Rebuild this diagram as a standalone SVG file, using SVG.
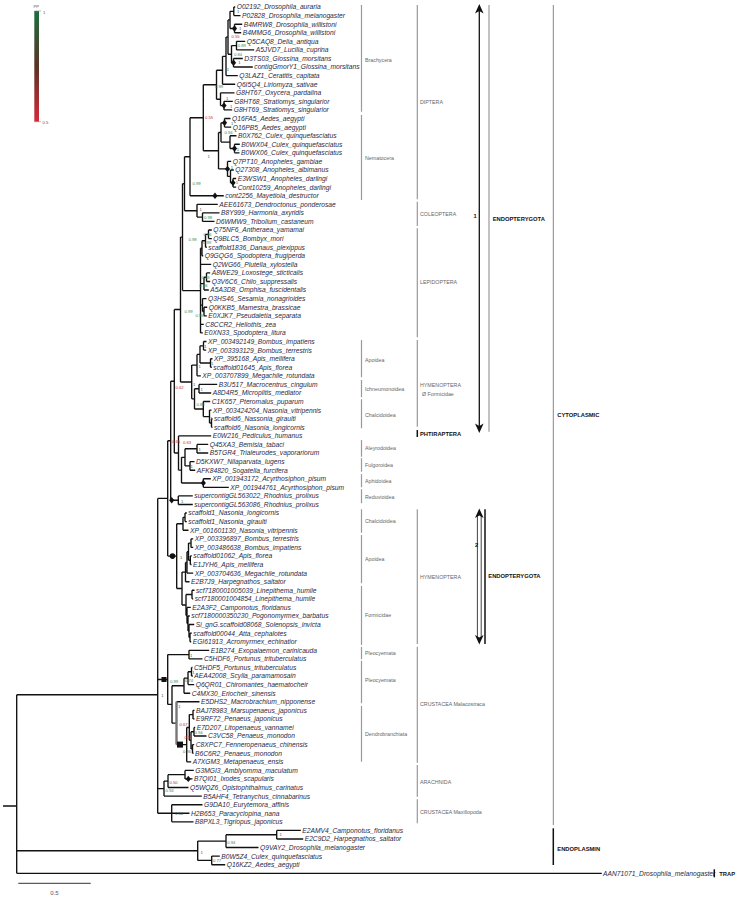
<svg xmlns="http://www.w3.org/2000/svg" width="739" height="897" viewBox="0 0 739 897">
<style>
.t{font-family:"Liberation Sans",Arial,sans-serif;font-style:italic;font-size:6.7px;fill:#2a2a44}
.g{font-family:"Liberation Sans",Arial,sans-serif;font-size:5.3px;fill:#666}
.b{font-family:"Liberation Sans",Arial,sans-serif;font-size:5.8px;font-weight:bold;fill:#111}
.s{font-family:"Liberation Sans",Arial,sans-serif;font-size:4.2px}
.s1{fill:#3d5c4a}.sg{fill:#2e8b57}.sm{fill:#6e6a40}.sr{fill:#c62835}
.br{stroke:#9a9a9a;stroke-width:1.2;fill:none}
.bk{stroke:#111;stroke-width:1.5;fill:none}
.tree{stroke:#111;stroke-width:1.35;fill:none}
</style>
<defs>
<linearGradient id="pp" x1="0" y1="0" x2="0" y2="1">
<stop offset="0" stop-color="#1b6e3e"/><stop offset="0.5" stop-color="#5a3324"/><stop offset="1" stop-color="#d42a3c"/>
</linearGradient>
<path id="dia" d="M0 -3.2L2.6 0L0 3.2L-2.6 0Z" fill="#111"/>
</defs>
<rect width="739" height="897" fill="#fff"/>

<g id="legend">
<rect x="34.3" y="11" width="4.7" height="110.7" fill="url(#pp)"/>
<path d="M34.3 11H41M34.3 121.7H41" stroke="#888" stroke-width="0.6"/>
<text class="s" x="33.5" y="8" fill="#555" font-size="3.6">PP</text>
<text class="s" x="43" y="13.5" fill="#555">1</text>
<text class="s" x="42.5" y="123.5" fill="#555">0.5</text>
</g>

<g id="connectors">
<path class="tree" d="M233.8 7V15.6M233.8 7H235.2M233.8 15.6H240.5
M234.5 24.2V32.7M234.5 24.2H242.2M234.5 32.7H241.2
M230 11.3V28.45M230 11.3H233.8M230 28.45H234.5
M236.5 41.3V49.9M236.5 41.3H245.2M236.5 49.9H254.2
M233.5 58.5V67M233.5 58.5H242.8M233.5 67H252.8
M231.5 45.6V62.75M231.5 45.6H236.5M231.5 62.75H233.5
M228 19.9V54.2M228 19.9H230M228 54.2H231.5
M226 37.05V75.6M226 37.05H228M226 75.6H237.8
M222.5 56.3V84.2M222.5 56.3H226M222.5 84.2H235.2
M224 101.3V109.9M224 101.3H232.8M224 109.9H232.2
M220.5 92.8V105.6M220.5 92.8H234.5M220.5 105.6H224
M216.5 70.25V99.2M216.5 70.25H222.5M216.5 99.2H220.5
M224.5 118.5V127.1M224.5 118.5H230.5M224.5 127.1H231.2
M234.5 144.2V152.8M234.5 144.2H239.8M234.5 152.8H239.5
M230 135.7V148.5M230 135.7H236.5M230 148.5H234.5
M221 122.8V142.1M221 122.8H224.5M221 142.1H230
M233 178.5V187.1M233 178.5H236.2M233 187.1H236.2
M230.5 170V182.8M230.5 170H233.8M230.5 182.8H233
M227.5 161.4V176.4M227.5 161.4H231.2M227.5 176.4H230.5
M218.5 132.45V168.9M218.5 132.45H221M218.5 168.9H227.5
M203.3 84.7V150.7M203.3 84.7H216.5M203.3 150.7H218.5
M190 117.7V195.7M190 117.7H203.3M190 195.7H223.8
M202.5 212.8V221.4M202.5 212.8H219.5M202.5 221.4H214.5
M197 204.3V217.1M197 204.3H217.8M197 217.1H202.5
M184.5 156.7V210.7M184.5 156.7H190M184.5 210.7H197"/>
<path class="tree" d="M208.5 230V238.6M208.5 230H211.8M208.5 238.6H211.8
M205.5 234.3V247.2M205.5 234.3H208.5M205.5 247.2H206.8
M202 240.75V255.7M202 240.75H205.5M202 255.7H203.2
M206.5 272.9V281.5M206.5 272.9H210.2M206.5 281.5H210.2
M204 277.2V290M204 277.2H206.5M204 290H208.8
M204 307.2V315.8M204 307.2H207.2M204 315.8H206.8
M202.5 298.6V311.5M202.5 298.6H206.5M202.5 311.5H204
M200.5 248.2V332.9M200.5 248.2H202M200.5 264.3H211.2M200.5 283.6H204M200.5 305.05H202.5M200.5 324.3H203.8M200.5 332.9H202.8
M182.5 183.7V290.55M182.5 183.7H184.5M182.5 290.55H200.5"/>
<path class="tree" d="M203.5 341.5V350.1M203.5 341.5H206.5M203.5 350.1H206.2
M210.5 358.7V367.2M210.5 358.7H212.5M210.5 367.2H211.8
M200 345.8V362.95M200 345.8H203.5M200 362.95H210.5
M197 354.4V375.8M197 354.4H200M197 375.8H200.8
M199 384.4V393M199 384.4H217.2M199 393H211.2
M211.5 418.7V427.3M211.5 418.7H212.5M211.5 427.3H212.5
M209.5 410.1V423M209.5 410.1H211.5M209.5 423H211.5
M203.3 401.5V416.55M203.3 401.5H210.2M203.3 416.55H209.5
M194.5 388.7V409M194.5 388.7H199M194.5 409H203.3
M191.7 365.1V398.85M191.7 365.1H197M191.7 398.85H194.5
M180.5 237.1V381.95M180.5 237.1H182.5M180.5 381.95H191.7"/>
<path class="tree" d="M197 444.4V453M197 444.4H208.2M197 453H208.2
M190 461.6V470.2M190 461.6H194.5M190 470.2H195.2
M185 448.7V465.9M185 448.7H197M185 465.9H190
M203.3 478.7V487.3M203.3 478.7H210.8M203.3 487.3H228.8
M181.5 457.3V483M181.5 457.3H185M181.5 483H203.3
M178.5 435.9V470.15M178.5 435.9H211.2M178.5 470.15H181.5
M174.3 309.5V453M174.3 309.5H180.5M174.3 453H178.5
M178.3 495.9V504.5M178.3 495.9H192.8M178.3 504.5H192.8
M170.7 381.25V500.2M170.7 381.25H174.3M170.7 500.2H178.3"/>
<path class="tree" d="M185 513V521.6M185 513H186.8M185 521.6H186.8
M183 517.3V530.2M183 517.3H185M183 530.2H188.5
M191 538.8V547.4M191 538.8H193.2M191 547.4H193.2
M190.3 555.9V564.5M190.3 555.9H191.8M190.3 564.5H191.5
M188.5 543.1V560.2M188.5 543.1H191M188.5 560.2H190.3
M187 551.65V573.1M187 551.65H188.5M187 573.1H193.2
M185.5 562.4V581.7M185.5 562.4H187M185.5 581.7H189.5
M192 590.2V598.8M192 590.2H194.5M192 598.8H193.2
M190 633.1V641.7M190 633.1H191.8M190 641.7H191.2
M189 624.5V637.4M189 624.5H194.2M189 637.4H190
M188 616V630.95M188 616H189.8M188 630.95H189
M187 607.4V623.5M187 607.4H190.8M187 623.5H188
M186 594.5V615.45M186 594.5H192M186 615.45H187
M182 572.05V604.95M182 572.05H185.5M182 604.95H186
M176.7 523.75V588.5M176.7 523.75H183M176.7 588.5H182
M167.7 440.7V556.1M167.7 440.7H170.7M167.7 556.1H176.7"/>
<path class="tree" d="M189 650.3V658.9M189 650.3H209.2M189 658.9H202.5
M191.5 667.4V676M191.5 667.4H192.5M191.5 676H192.8
M188 671.7V684.6M188 671.7H191.5M188 684.6H194.2
M184 678.15V693.2M184 678.15H188M184 693.2H190.2
M193 710.3V718.9M193 710.3H194.5M193 718.9H194.5
M194 727.5V736M194 727.5H195.2M194 736H206.5
M192.5 744.6V753.2M192.5 744.6H194.2M192.5 753.2H193.5
M191 731.75V748.9M191 731.75H194M191 748.9H192.5
M189.3 714.6V740.3M189.3 714.6H193M189.3 740.3H191
M186.7 727.45V761.8M186.7 727.45H189.3M186.7 761.8H191.2
M176.5 744.6H186.7M176.5 701.7H199.5
M172 685.7V723.15M172 685.7H184M172 723.15H176.5
M167.7 654.6V704.4M167.7 654.6H189M167.7 704.4H172
M185 770.4V778.9M185 770.4H193.8M185 778.9H192.5
M168 774.65V787.5M168 774.65H185M168 787.5H188.5
M164 781.1V796.1M164 781.1H168M164 796.1H201.8
M171.7 804.7V821.8M171.7 804.7H202.5M171.7 813.2H189.5M171.7 821.8H193.5
M157.7 498.4V813.2M157.7 498.4H167.7M157.7 679.5H167.7M157.7 788.6H164M157.7 813.2H171.7"/>
<path d="M176.5 701.7V744.6" stroke="#777" stroke-width="2.4" fill="none"/>
<path class="tree" d="M276.7 830.4V839M276.7 830.4H300.8M276.7 839H303.2
M226 834.7V847.5M226 834.7H276.7M226 847.5H258.5
M211.7 856.1V864.7M211.7 856.1H219.8M211.7 864.7H225.2
M197.7 841.1V860.4M197.7 841.1H226M197.7 860.4H211.7
M16.7 694.7V873.3M16.7 694.7H157.7M16.7 850.75H197.7M16.7 873.3H601.8M3 806H16.7"/>
</g>

<g id="node-markers">
<use href="#dia" x="234.5" y="28.45"/>
<use href="#dia" x="233.5" y="62.75"/>
<use href="#dia" x="224" y="105.6"/>
<use href="#dia" x="224.5" y="122.8"/>
<use href="#dia" x="234.5" y="148.5"/>
<use href="#dia" x="227.5" y="168.9"/>
<use href="#dia" x="233" y="182.8"/>
<use href="#dia" x="215" y="195.7"/>
<use href="#dia" x="203.3" y="483"/>
<use href="#dia" x="171.7" y="500.2"/>
<use href="#dia" x="188.3" y="778.9"/>
<circle cx="172.5" cy="556.1" r="2.8" fill="#111"/>
<rect x="161.5" y="677" width="5" height="5" fill="#111"/>
<rect x="177" y="741.6" width="6" height="6" fill="#111"/>
</g>

<g id="supports" class="s">
<text class="s1" x="237" y="13.2">1</text>
<text class="s1" x="239" y="29.8">1</text>
<text class="sr" x="231.5" y="38.4">0.55</text>
<text class="sg" x="237.8" y="47">0.89</text>
<text class="sg" x="234" y="55.6">0.84</text>
<text class="s1" x="238.3" y="64.2">1</text>
<text class="s1" x="226.7" y="70.8">1</text>
<text class="sg" x="215" y="87.8">0.99</text>
<text class="s1" x="226" y="100">1</text>
<text class="s1" x="230" y="107.5">1</text>
<text class="sr" x="205" y="119">0.55</text>
<text class="s1" x="231" y="124.8">1</text>
<text class="sg" x="224.5" y="133.8">0.94</text>
<text class="s1" x="236.7" y="150.7">1</text>
<text class="s1" x="207.5" y="157.5">1</text>
<text class="s1" x="230.7" y="168.5">1</text>
<text class="s1" x="235.7" y="184.2">1</text>
<text class="sg" x="192.5" y="184.8">0.99</text>
<text class="s1" x="199.5" y="210.5">1</text>
<text class="sg" x="204" y="219">0.98</text>
<text class="sg" x="203.5" y="236.3">0.96</text>
<text class="sg" x="188.5" y="240.8">0.98</text>
<text class="sg" x="203" y="244">0.99</text>
<text class="sg" x="201.5" y="278.5">0.93</text>
<text class="sg" x="199.5" y="287">0.96</text>
<text class="sg" x="184.5" y="312.5">0.99</text>
<text class="sg" x="195.5" y="316.5">0.96</text>
<text class="s1" x="204.3" y="347.8">1</text>
<text class="s1" x="211" y="365">1</text>
<text class="s1" x="198.5" y="368">1</text>
<text class="s1" x="193" y="385.5">1</text>
<text class="s1" x="200.5" y="391">1</text>
<text class="sr" x="175.5" y="388.8">0.62</text>
<text class="sg" x="196.5" y="406">0.89</text>
<text class="s1" x="210.2" y="419.5">1</text>
<text class="sr" x="172" y="443.2">0.65</text>
<text class="sr" x="183" y="444">0.63</text>
<text class="s1" x="198.5" y="450.5">1</text>
<text class="s1" x="190.5" y="467.5">1</text>
<text class="s1" x="181" y="502.5">1</text>
<text class="s1" x="189.3" y="545.2">1</text>
<text class="s1" x="180" y="559">1</text>
<text class="s1" x="190" y="656.5">1</text>
<text class="s1" x="192.3" y="673.5">1</text>
<text class="sm" x="185" y="682">0.74</text>
<text class="sg" x="170" y="682.5">0.99</text>
<text class="s1" x="161.2" y="697">1</text>
<text class="s1" x="178.3" y="707.5">1</text>
<text class="sr" x="179.5" y="726">0.67</text>
<text class="sg" x="194.5" y="734">0.94</text>
<text class="sr" x="184.5" y="739">0.5</text>
<text class="sm" x="183" y="753">0.86</text>
<text class="sr" x="169.5" y="784">0.50</text>
<text class="sg" x="165.5" y="792">0.94</text>
<text class="s1" x="175" y="814.5">1.00</text>
<text class="s1" x="279.5" y="836.2">1</text>
<text class="sg" x="227.3" y="843.5">0.94</text>
<text class="s1" x="200.5" y="853.5">1</text>
<text class="sm" x="213" y="862">0.77</text>
</g>

<g id="leaves">
<g id="leaf-0"><text class="t" x="236.7" y="9.4">O02192_Drosophila_auraria</text></g>
<g id="leaf-1"><text class="t" x="242" y="18">P02828_Drosophila_melanogaster</text></g>
<g id="leaf-2"><text class="t" x="243.7" y="26.6">B4MRW8_Drosophila_willistoni</text></g>
<g id="leaf-3"><text class="t" x="242.7" y="35.1">B4MMG6_Drosophila_willistoni</text></g>
<g id="leaf-4"><text class="t" x="246.7" y="43.7">Q5CAQ8_Delia_antiqua</text></g>
<g id="leaf-5"><text class="t" x="255.7" y="52.3">A5JVD7_Lucilia_cuprina</text></g>
<g id="leaf-6"><text class="t" x="244.3" y="60.9">D3TS03_Glossina_morsitans</text></g>
<g id="leaf-7"><text class="t" x="254.3" y="69.4">contigGmorY1_Glossina_morsitans</text></g>
<g id="leaf-8"><text class="t" x="239.3" y="78">Q3LAZ1_Ceratitis_capitata</text></g>
<g id="leaf-9"><text class="t" x="236.7" y="86.6">Q6I5Q4_Liriomyza_sativae</text></g>
<g id="leaf-10"><text class="t" x="236" y="95.2">G8HT67_Oxycera_pardalina</text></g>
<g id="leaf-11"><text class="t" x="234.3" y="103.7">G8HT68_Stratiomys_singularior</text></g>
<g id="leaf-12"><text class="t" x="233.7" y="112.3">G8HT69_Stratiomys_singularior</text></g>
<g id="leaf-13"><text class="t" x="232" y="120.9">Q16FA5_Aedes_aegypti</text></g>
<g id="leaf-14"><text class="t" x="232.7" y="129.5">Q16PB5_Aedes_aegypti</text></g>
<g id="leaf-15"><text class="t" x="238" y="138.1">B0X762_Culex_quinquefasciatus</text></g>
<g id="leaf-16"><text class="t" x="241.3" y="146.6">B0WX04_Culex_quinquefasciatus</text></g>
<g id="leaf-17"><text class="t" x="241" y="155.2">B0WX06_Culex_quinquefasciatus</text></g>
<g id="leaf-18"><text class="t" x="232.7" y="163.8">Q7PT10_Anopheles_gambiae</text></g>
<g id="leaf-19"><text class="t" x="235.3" y="172.4">Q27308_Anopheles_albimanus</text></g>
<g id="leaf-20"><text class="t" x="237.7" y="180.9">E3WSW1_Anopheles_darlingi</text></g>
<g id="leaf-21"><text class="t" x="237.7" y="189.5">Cont10259_Anopheles_darlingi</text></g>
<g id="leaf-22"><text class="t" x="225.3" y="198.1">cont2256_Mayetiola_destructor</text></g>
<g id="leaf-23"><text class="t" x="219.3" y="206.7">AEE61673_Dendroctonus_ponderosae</text></g>
<g id="leaf-24"><text class="t" x="221" y="215.2">B8Y999_Harmonia_axyridis</text></g>
<g id="leaf-25"><text class="t" x="216" y="223.8">D6WMW9_Tribolium_castaneum</text></g>
<g id="leaf-26"><text class="t" x="213.3" y="232.4">Q75NF6_Antheraea_yamamai</text></g>
<g id="leaf-27"><text class="t" x="213.3" y="241">Q9BLC5_Bombyx_mori</text></g>
<g id="leaf-28"><text class="t" x="208.3" y="249.6">scaffold1836_Danaus_plexippus</text></g>
<g id="leaf-29"><text class="t" x="204.7" y="258.1">Q9GQG6_Spodoptera_frugiperda</text></g>
<g id="leaf-30"><text class="t" x="212.7" y="266.7">Q2WG66_Plutella_xylostella</text></g>
<g id="leaf-31"><text class="t" x="211.7" y="275.3">A8WE29_Loxostege_sticticalis</text></g>
<g id="leaf-32"><text class="t" x="211.7" y="283.9">Q3V6C6_Chilo_suppressalis</text></g>
<g id="leaf-33"><text class="t" x="210.3" y="292.4">A5A3D8_Omphisa_fuscidentalis</text></g>
<g id="leaf-34"><text class="t" x="208" y="301">Q3HS46_Sesamia_nonagrioides</text></g>
<g id="leaf-35"><text class="t" x="208.7" y="309.6">Q0KKB5_Mamestra_brassicae</text></g>
<g id="leaf-36"><text class="t" x="208.3" y="318.2">E0XJK7_Pseudaletia_separata</text></g>
<g id="leaf-37"><text class="t" x="205.3" y="326.7">C8CCR2_Heliothis_zea</text></g>
<g id="leaf-38"><text class="t" x="204.3" y="335.3">E0XN33_Spodoptera_litura</text></g>
<g id="leaf-39"><text class="t" x="208" y="343.9">XP_003492149_Bombus_impatiens</text></g>
<g id="leaf-40"><text class="t" x="207.7" y="352.5">XP_003393129_Bombus_terrestris</text></g>
<g id="leaf-41"><text class="t" x="214" y="361.1">XP_395168_Apis_mellifera</text></g>
<g id="leaf-42"><text class="t" x="213.3" y="369.6">scaffold01645_Apis_florea</text></g>
<g id="leaf-43"><text class="t" x="202.3" y="378.2">XP_003707899_Megachile_rotundata</text></g>
<g id="leaf-44"><text class="t" x="218.7" y="386.8">B3U517_Macrocentrus_cingulum</text></g>
<g id="leaf-45"><text class="t" x="212.7" y="395.4">A8D4R5_Microplitis_mediator</text></g>
<g id="leaf-46"><text class="t" x="211.7" y="403.9">C1K657_Pteromalus_puparum</text></g>
<g id="leaf-47"><text class="t" x="213" y="412.5">XP_003424204_Nasonia_vitripennis</text></g>
<g id="leaf-48"><text class="t" x="214" y="421.1">scaffold6_Nassonia_giraulti</text></g>
<g id="leaf-49"><text class="t" x="214" y="429.7">scaffold6_Nasonia_longicornis</text></g>
<g id="leaf-50"><text class="t" x="212.7" y="438.3">E0W216_Pediculus_humanus</text></g>
<g id="leaf-51"><text class="t" x="209.7" y="446.8">Q45XA3_Bemisia_tabaci</text></g>
<g id="leaf-52"><text class="t" x="209.7" y="455.4">B5TGR4_Trialeurodes_vaporariorum</text></g>
<g id="leaf-53"><text class="t" x="196" y="464">D5KXW7_Nilaparvata_lugens</text></g>
<g id="leaf-54"><text class="t" x="196.7" y="472.6">AFK84820_Sogatella_furcifera</text></g>
<g id="leaf-55"><text class="t" x="212.3" y="481.1">XP_001943172_Acyrthosiphon_pisum</text></g>
<g id="leaf-56"><text class="t" x="230.3" y="489.7">XP_001944761_Acyrthosiphon_pisum</text></g>
<g id="leaf-57"><text class="t" x="194.3" y="498.3">supercontigGL563022_Rhodnius_prolixus</text></g>
<g id="leaf-58"><text class="t" x="194.3" y="506.9">supercontigGL563086_Rhodnius_prolixus</text></g>
<g id="leaf-59"><text class="t" x="188.3" y="515.4">scaffold1_Nasonia_longicornis</text></g>
<g id="leaf-60"><text class="t" x="188.3" y="524">scaffold1_Nasonia_giraulti</text></g>
<g id="leaf-61"><text class="t" x="190" y="532.6">XP_001601130_Nasonia_vitripennis</text></g>
<g id="leaf-62"><text class="t" x="194.7" y="541.2">XP_003396897_Bombus_terrestris</text></g>
<g id="leaf-63"><text class="t" x="194.7" y="549.8">XP_003486638_Bombus_impatiens</text></g>
<g id="leaf-64"><text class="t" x="193.3" y="558.3">scaffold01062_Apis_florea</text></g>
<g id="leaf-65"><text class="t" x="193" y="566.9">E1JYH6_Apis_mellifera</text></g>
<g id="leaf-66"><text class="t" x="194.7" y="575.5">XP_003704636_Megachile_rotundata</text></g>
<g id="leaf-67"><text class="t" x="191" y="584.1">E2B7J9_Harpegnathos_saltator</text></g>
<g id="leaf-68"><text class="t" x="196" y="592.6">scf7180001005039_Linepithema_humile</text></g>
<g id="leaf-69"><text class="t" x="194.7" y="601.2">scf7180001004854_Linepithema_humile</text></g>
<g id="leaf-70"><text class="t" x="192.3" y="609.8">E2A3F2_Camponotus_floridanus</text></g>
<g id="leaf-71"><text class="t" x="191.3" y="618.4">scf7180000350230_Pogonomyrmex_barbatus</text></g>
<g id="leaf-72"><text class="t" x="195.7" y="626.9">Si_gnG.scaffold08068_Solenopsis_invicta</text></g>
<g id="leaf-73"><text class="t" x="193.3" y="635.5">scaffold00044_Atta_cephalotes</text></g>
<g id="leaf-74"><text class="t" x="192.7" y="644.1">EGI61913_Acromyrmex_echinatior</text></g>
<g id="leaf-75"><text class="t" x="210.7" y="652.7">E1B274_Exopalaemon_carinicauda</text></g>
<g id="leaf-76"><text class="t" x="204" y="661.3">C5HDF6_Portunus_trituberculatus</text></g>
<g id="leaf-77"><text class="t" x="194" y="669.8">C5HDF5_Portunus_trituberculatus</text></g>
<g id="leaf-78"><text class="t" x="194.3" y="678.4">AEA42008_Scylla_paramamosain</text></g>
<g id="leaf-79"><text class="t" x="195.7" y="687">Q6QR01_Chiromantes_haematocheir</text></g>
<g id="leaf-80"><text class="t" x="191.7" y="695.6">C4MX30_Eriocheir_sinensis</text></g>
<g id="leaf-81"><text class="t" x="201" y="704.1">E5DHS2_Macrobrachium_nipponense</text></g>
<g id="leaf-82"><text class="t" x="196" y="712.7">BAJ78983_Marsupenaeus_japonicus</text></g>
<g id="leaf-83"><text class="t" x="196" y="721.3">E9RF72_Penaeus_japonicus</text></g>
<g id="leaf-84"><text class="t" x="196.7" y="729.9">E7D207_Litopenaeus_vannamei</text></g>
<g id="leaf-85"><text class="t" x="208" y="738.4">C3VC58_Penaeus_monodon</text></g>
<g id="leaf-86"><text class="t" x="195.7" y="747">C8XPC7_Fenneropenaeus_chinensis</text></g>
<g id="leaf-87"><text class="t" x="195" y="755.6">B6C6R2_Penaeus_monodon</text></g>
<g id="leaf-88"><text class="t" x="192.7" y="764.2">A7XGM3_Metapenaeus_ensis</text></g>
<g id="leaf-89"><text class="t" x="195.3" y="772.8">G3MGI3_Amblyomma_maculatum</text></g>
<g id="leaf-90"><text class="t" x="194" y="781.3">B7QI01_Ixodes_scapularis</text></g>
<g id="leaf-91"><text class="t" x="190" y="789.9">Q5WQZ6_Opistophthalmus_carinatus</text></g>
<g id="leaf-92"><text class="t" x="203.3" y="798.5">B5AHF4_Tetranychus_cinnabarinus</text></g>
<g id="leaf-93"><text class="t" x="204" y="807.1">G9DA10_Eurytemora_affinis</text></g>
<g id="leaf-94"><text class="t" x="191" y="815.6">H2B653_Paracyclopina_nana</text></g>
<g id="leaf-95"><text class="t" x="195" y="824.2">B8PXL3_Tigriopus_japonicus</text></g>
<g id="leaf-96"><text class="t" x="302.3" y="832.8">E2AMV4_Camponotus_floridanus</text></g>
<g id="leaf-97"><text class="t" x="304.7" y="841.4">E2C9D2_Harpegnathos_saltator</text></g>
<g id="leaf-98"><text class="t" x="260" y="849.9">Q9VAY2_Drosophila_melanogaster</text></g>
<g id="leaf-99"><text class="t" x="221.3" y="858.5">B0W5Z4_Culex_quinquefasciatus</text></g>
<g id="leaf-100"><text class="t" x="226.7" y="867.1">Q16KZ2_Aedes_aegypti</text></g>
<g id="leaf-101"><text class="t" x="603" y="875.6" font-size="5.9">AAN71071_Drosophila_melanogaster</text></g>
</g>

<g id="groups-inner">
<path class="br" d="M361.5 5V111.7M361.5 115V200M361.5 340V377.3M361.5 380V397.3M361.5 399.3V428.3M361.5 440V456.7M361.5 458.3V471.7M361.5 474V487.3M361.5 489.3V503.3M361.5 509.3V532.7M361.5 535V583.3M361.5 586V645M361.5 646.7V659.3M361.5 660.7V703.3M361.5 706V761.7"/>
<text class="g" x="365" y="62">Brachycera</text>
<text class="g" x="365" y="160">Nematocera</text>
<text class="g" x="365" y="362">Apoidea</text>
<text class="g" x="365" y="391">Ichneumonoidea</text>
<text class="g" x="365" y="417">Chalcidoidea</text>
<text class="g" x="365" y="450">Aleyrodoidea</text>
<text class="g" x="365" y="467">Fulgoroidea</text>
<text class="g" x="365" y="482.5">Aphidoidea</text>
<text class="g" x="365" y="498.5">Reduvioidea</text>
<text class="g" x="365" y="523">Chalcidoidea</text>
<text class="g" x="365" y="561">Apoidea</text>
<text class="g" x="365" y="617">Formicidae</text>
<text class="g" x="365" y="654.5">Pleocyemata</text>
<text class="g" x="365" y="682">Pleocyemata</text>
<text class="g" x="365" y="736">Dendrobranchiata</text>
</g>

<g id="groups-outer">
<path class="br" d="M417.3 5V199.3M417.3 201.7V226M417.3 228.3V337.3M417.3 340V426.7M417.3 509.3V644M417.3 646.7V762.7M417.3 765V796.7M417.3 799.3V823.3"/>
<path class="bk" d="M417.3 430V437"/>
<text class="g" x="420" y="104">DIPTERA</text>
<text class="g" x="420" y="216">COLEOPTERA</text>
<text class="g" x="420" y="284">LEPIDOPTERA</text>
<text class="g" x="420" y="387">HYMENOPTERA</text>
<text class="g" x="422" y="396">Ø Formicidae</text>
<text class="b" x="420" y="435.8">PHTIRAPTERA</text>
<text class="g" x="420" y="578.5">HYMENOPTERA</text>
<text class="g" x="420" y="706">CRUSTACEA Malacostraca</text>
<text class="g" x="420" y="783.5">ARACHNIDA</text>
<text class="g" x="420" y="813.5">CRUSTACEA Maxillopoda</text>
</g>

<g id="endopterygota-1">
<path d="M479.3 10V427" stroke="#111" stroke-width="1.3"/>
<path d="M479.3 4L483.6 13.5L479.3 11L475 13.5Z" fill="#111"/>
<path d="M479.3 433L483.6 423.5L479.3 426L475 423.5Z" fill="#111"/>
<text class="b" x="473.5" y="217.5">1</text>
<path class="br" d="M489 5V431.7"/>
<text class="b" x="492.7" y="220.5">ENDOPTERYGOTA</text>
</g>

<g id="endopterygota-2">
<path d="M477.4 515V638M481.2 515V638" stroke="#111" stroke-width="0.8"/>
<path d="M479.3 508.5L483.6 518L479.3 515.5L475 518Z" fill="#111"/>
<path d="M479.3 644.5L483.6 635L479.3 637.5L475 635Z" fill="#111"/>
<text class="b" x="475" y="547">2</text>
<path class="bk" d="M485 509.3V644"/>
<text class="b" x="488.3" y="578">ENDOPTERYGOTA</text>
</g>

<g id="localisation">
<path d="M553.3 5V825" stroke="#888" stroke-width="1"/>
<text class="b" x="557.3" y="417">CYTOPLASMIC</text>
<path class="bk" d="M553.3 828.3V865"/>
<text class="b" x="557.3" y="850.5">ENDOPLASMIN</text>
<path class="bk" d="M714.3 869.3V877.3"/>
<text class="b" x="719.3" y="876">TRAP</text>
</g>

<g id="scale">
<path d="M18.3 883.3H90.7" stroke="#333" stroke-width="1"/>
<text x="54.5" y="894.5" text-anchor="middle" font-family="Liberation Sans, Arial, sans-serif" font-size="6" fill="#555">0.5</text>
</g>
</svg>
